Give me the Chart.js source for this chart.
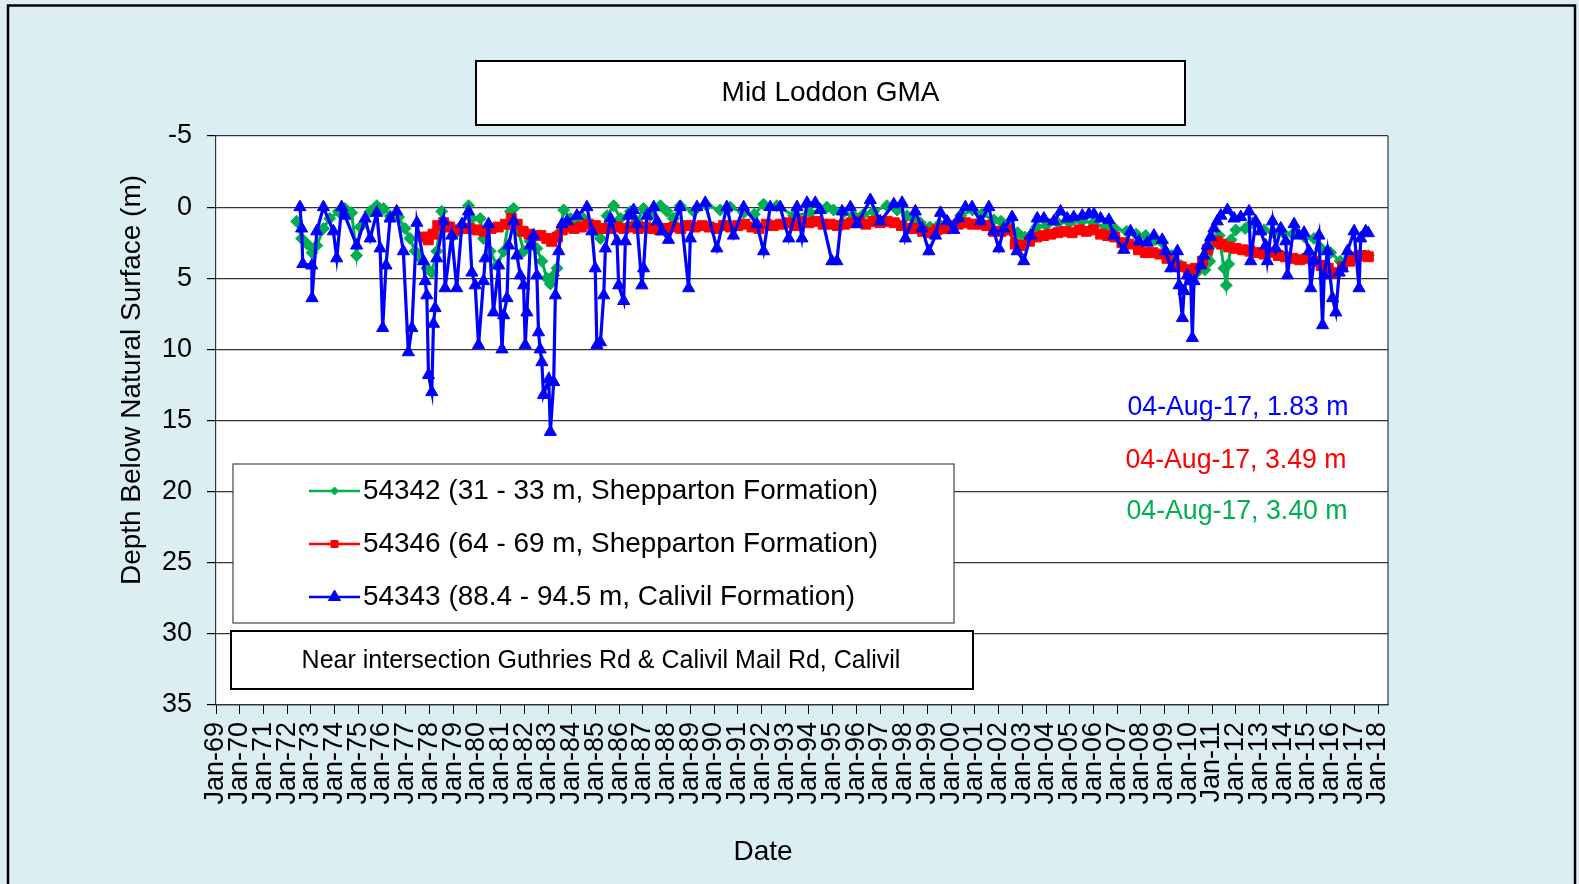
<!DOCTYPE html>
<html lang="en">
<head>
<meta charset="UTF-8">
<title>Mid Loddon GMA</title>
<script src="https://cdn.jsdelivr.net/npm/chart.js"></script>
<style>
	html, body { margin: 0; padding: 0; background: #DAEEF3; }
	canvas { display: block; }
</style>
</head>
<body>
<canvas id="bore-chart" width="1579" height="884"></canvas>
<script>
// x axis: one tick per January, Jan-69 .. Jan-18
const tickLabels = ['Jan-69','Jan-70','Jan-71','Jan-72','Jan-73','Jan-74','Jan-75','Jan-76','Jan-77','Jan-78',
	'Jan-79','Jan-80','Jan-81','Jan-82','Jan-83','Jan-84','Jan-85','Jan-86','Jan-87','Jan-88',
	'Jan-89','Jan-90','Jan-91','Jan-92','Jan-93','Jan-94','Jan-95','Jan-96','Jan-97','Jan-98',
	'Jan-99','Jan-00','Jan-01','Jan-02','Jan-03','Jan-04','Jan-05','Jan-06','Jan-07','Jan-08',
	'Jan-09','Jan-10','Jan-11','Jan-12','Jan-13','Jan-14','Jan-15','Jan-16','Jan-17','Jan-18'];
const firstYear = 1969;
const axisEndYear = 2018.42;

const seriesNames = ['54342 (31 - 33 m, Shepparton Formation)',
	'54346 (64 - 69 m, Shepparton Formation)',
	'54343 (88.4 - 94.5 m, Calivil Formation)'];

// 54342 - decimal year / depth below surface (m)
const greenYears = [1972.40,1972.61,1972.85,1973.05,1973.25,1973.53,1973.80,1974.16,1974.44,1974.72,
	1974.93,1975.08,1975.50,1975.78,1976.06,1976.34,1976.70,1976.97,1977.18,1977.40,
	1977.61,1977.89,1978.10,1978.31,1978.52,1978.73,1979.01,1979.37,1979.65,1979.79,
	1980.14,1980.28,1980.56,1980.85,1981.13,1981.41,1981.55,1981.76,1981.97,1982.25,
	1982.53,1982.74,1982.95,1983.10,1983.24,1983.38,1983.52,1983.66,1983.94,1984.22,
	1984.50,1984.92,1985.21,1985.49,1985.77,1986.05,1986.47,1986.75,1987.03,1987.31,
	1987.74,1988.02,1988.29,1988.57,1989.14,1989.70,1990.26,1990.68,1991.25,1991.70,
	1992.09,1992.65,1993.36,1994.06,1994.76,1995.04,1995.45,1995.89,1996.30,1996.73,
	1997.29,1997.72,1998.14,1998.40,1998.70,1999.10,1999.50,1999.90,2000.40,2000.90,
	2001.30,2001.80,2002.10,2002.40,2002.80,2003.10,2003.60,2004.00,2004.50,2005.00,
	2005.50,2006.00,2006.50,2006.90,2007.40,2007.80,2008.20,2008.60,2008.90,2009.30,
	2009.70,2010.00,2010.30,2010.70,2010.90,2011.10,2011.30,2011.50,2011.60,2011.70,
	2011.80,2012.00,2012.40,2012.70,2013.20,2013.60,2014.00,2014.40,2014.90,2015.30,
	2015.60,2016.00,2016.40,2016.80,2017.20,2017.59];
const greenDepths = [1.0,2.2,2.6,3.2,2.7,1.5,0.8,0.3,0.1,0.4,
	3.4,1.4,0.3,-0.1,0.1,0.6,0.7,1.5,2.2,3.1,
	3.6,4.3,4.6,3.1,0.3,1.2,2.0,1.5,-0.1,0.8,
	0.8,2.2,3.1,4.1,3.1,0.3,0.1,1.7,3.1,2.4,
	2.9,3.8,5.0,5.4,4.8,4.3,1.7,0.2,0.8,1.0,
	0.8,1.7,2.2,0.6,-0.1,0.8,0.3,1.0,0.1,0.6,
	-0.1,0.3,0.8,-0.1,0.3,-0.1,0.2,0.0,0.4,0.5,
	-0.2,-0.1,0.6,0.4,0.0,0.2,0.4,0.6,0.5,0.3,
	-0.1,0.2,0.6,0.8,1.1,1.4,1.2,1.5,0.6,0.2,
	0.5,0.9,1.0,1.3,1.8,2.1,1.4,1.3,1.1,1.1,
	1.0,1.1,1.4,1.5,1.7,1.9,2.0,2.3,2.5,3.4,
	4.1,4.5,4.7,4.4,3.8,2.5,2.0,4.3,5.5,4.0,
	2.3,1.6,1.5,1.1,1.6,1.8,1.8,1.9,2.1,2.2,
	2.9,3.2,3.8,3.5,3.4,3.40];

// 54346
const redYears = [1977.75,1977.95,1978.15,1978.35,1978.60,1978.85,1979.10,1979.40,1979.70,1980.00,
	1980.30,1980.60,1980.90,1981.20,1981.45,1981.70,1981.95,1982.20,1982.45,1982.70,
	1982.95,1983.15,1983.40,1983.60,1983.85,1984.10,1984.40,1984.70,1985.00,1985.30,
	1985.60,1985.90,1986.20,1986.50,1986.80,1987.10,1987.40,1987.70,1988.00,1988.30,
	1988.60,1988.90,1989.20,1989.50,1989.80,1990.10,1990.40,1990.70,1991.00,1991.30,
	1991.60,1991.90,1992.20,1992.50,1992.80,1993.10,1993.40,1993.70,1994.00,1994.30,
	1994.60,1994.90,1995.20,1995.50,1995.80,1996.10,1996.40,1996.70,1997.00,1997.30,
	1997.60,1997.90,1998.20,1998.50,1998.80,1999.10,1999.40,1999.70,2000.00,2000.30,
	2000.60,2000.90,2001.20,2001.50,2001.80,2002.10,2002.40,2002.70,2003.00,2003.30,
	2003.60,2003.90,2004.20,2004.50,2004.80,2005.10,2005.40,2005.70,2006.00,2006.30,
	2006.60,2006.90,2007.20,2007.50,2007.90,2008.20,2008.50,2008.80,2009.10,2009.40,
	2009.70,2010.00,2010.30,2010.60,2010.80,2011.20,2011.40,2011.70,2012.00,2012.30,
	2012.60,2012.90,2013.20,2013.50,2013.80,2014.10,2014.40,2014.70,2015.00,2015.30,
	2015.60,2015.90,2016.20,2016.50,2016.80,2017.10,2017.30,2017.59];
const redDepths = [2.1,2.3,1.9,1.3,1.1,1.4,1.6,1.5,1.5,1.6,
	1.7,1.5,1.4,1.2,0.8,1.2,1.7,1.9,2.0,2.0,
	2.2,2.4,2.1,1.6,1.4,1.5,1.4,1.2,1.3,1.5,
	1.5,1.4,1.5,1.4,1.5,1.4,1.5,1.6,1.5,1.4,
	1.5,1.3,1.4,1.3,1.4,1.5,1.3,1.4,1.3,1.2,
	1.4,1.5,1.2,1.3,1.2,1.1,1.3,1.0,1.1,1.0,
	1.2,1.2,1.3,1.2,1.1,1.0,1.2,1.0,1.1,1.0,
	1.1,1.3,1.5,1.5,1.7,1.8,1.6,1.5,1.3,1.2,
	1.1,1.2,1.2,1.3,1.7,1.7,1.6,2.6,2.7,2.4,
	2.1,2.0,1.9,1.8,1.7,1.8,1.6,1.7,1.6,1.9,
	2.0,2.1,2.5,2.6,3.0,3.2,3.2,3.3,3.6,4.0,
	4.2,4.4,4.3,3.8,3.0,2.4,2.6,2.8,2.9,3.0,
	3.1,3.2,3.3,3.2,3.4,3.5,3.6,3.7,3.6,3.8,
	4.1,4.3,4.6,4.2,3.8,3.5,3.4,3.49];

// 54343
const blueYears = [1972.54,1972.61,1972.66,1973.04,1973.05,1973.25,1973.53,1973.95,1974.09,1974.30,
	1974.44,1974.93,1975.29,1975.50,1975.78,1975.92,1976.03,1976.17,1976.34,1976.62,
	1976.90,1977.11,1977.26,1977.47,1977.75,1977.82,1977.89,1977.96,1978.10,1978.17,
	1978.24,1978.31,1978.59,1978.66,1978.94,1979.15,1979.37,1979.65,1979.79,1979.93,
	1980.07,1980.28,1980.35,1980.49,1980.70,1980.92,1981.06,1981.13,1981.27,1981.34,
	1981.55,1981.69,1981.83,1981.97,1982.04,1982.11,1982.25,1982.39,1982.53,1982.60,
	1982.67,1982.74,1982.81,1983.03,1983.10,1983.24,1983.31,1983.45,1983.59,1983.80,
	1984.22,1984.64,1984.85,1984.99,1985.06,1985.21,1985.35,1985.42,1985.63,1985.91,
	1985.98,1986.19,1986.26,1986.40,1986.61,1986.75,1986.96,1987.03,1987.17,1987.46,
	1987.60,1987.81,1988.08,1988.57,1988.93,1989.00,1989.28,1989.63,1990.12,1990.54,
	1990.82,1991.25,1991.81,1992.09,1992.37,1992.79,1993.15,1993.50,1993.71,1993.92,
	1994.27,1994.48,1994.97,1995.18,1995.40,1995.75,1996.03,1996.59,1997.01,1997.58,
	1997.93,1998.07,1998.49,1998.77,1999.06,1999.34,1999.55,1999.83,2000.11,2000.32,
	2000.60,2000.88,2001.24,2001.59,2001.80,2002.01,2002.22,2002.57,2002.78,2003.06,
	2003.35,2003.63,2003.91,2004.33,2004.61,2004.89,2005.17,2005.53,2005.81,2006.02,
	2006.30,2006.65,2006.86,2007.28,2007.56,2007.92,2008.27,2008.55,2008.90,2009.04,
	2009.26,2009.54,2009.61,2009.75,2009.82,2009.96,2010.10,2010.17,2010.24,2010.52,
	2010.66,2010.80,2010.94,2011.08,2011.22,2011.37,2011.65,2011.93,2012.21,2012.56,
	2012.63,2012.84,2013.05,2013.26,2013.33,2013.55,2013.69,2013.90,2014.11,2014.18,
	2014.46,2014.67,2014.88,2015.09,2015.16,2015.30,2015.51,2015.66,2015.73,2015.87,
	2016.08,2016.22,2016.36,2016.50,2016.71,2016.99,2017.20,2017.27,2017.48,2017.59];
const blueDepths = [0.0,1.5,4.0,4.1,6.4,1.7,0.0,1.7,3.6,0.0,
	0.6,2.7,0.8,2.2,0.4,2.9,8.5,4.1,0.8,0.3,
	3.1,10.2,8.5,1.1,3.8,5.2,6.2,11.8,13.0,8.2,
	7.1,3.6,1.0,5.7,2.0,5.7,1.2,0.3,4.6,5.5,
	9.7,5.2,3.6,1.2,7.4,4.1,10.0,7.6,6.4,2.7,
	1.0,3.4,4.8,5.5,9.7,7.4,2.7,2.0,4.8,8.8,
	10.0,10.9,13.2,12.1,15.8,12.3,6.2,3.1,1.2,1.0,
	0.6,0.0,1.7,4.3,9.7,9.5,6.2,2.9,0.8,2.4,
	5.5,6.6,2.4,0.6,0.2,1.2,5.5,4.3,0.6,0.0,
	1.0,1.7,2.3,0.0,5.7,2.2,0.0,-0.3,2.9,0.0,
	2.0,0.0,1.2,3.1,0.0,0.0,2.2,0.0,2.2,-0.3,
	-0.3,0.2,3.8,3.8,0.3,0.0,1.2,-0.5,1.0,-0.2,
	-0.3,2.2,0.3,1.5,3.1,2.0,0.4,1.0,1.6,0.8,
	0.0,0.0,1.0,0.0,1.7,2.9,1.5,0.7,3.1,3.8,
	2.0,0.8,0.8,1.0,0.3,0.8,0.7,0.6,0.5,0.5,
	0.8,0.9,2.0,3.0,1.7,2.4,2.5,2.0,2.3,3.1,
	4.3,3.1,5.5,7.8,5.9,4.8,5.2,9.2,5.2,4.1,
	3.4,2.7,2.1,1.5,1.0,0.6,0.2,0.8,0.7,0.3,
	3.8,1.0,1.7,2.7,3.8,1.0,2.9,1.5,2.4,4.8,
	1.2,2.0,1.8,3.1,5.7,3.8,2.0,8.3,4.8,3.1,
	6.4,7.4,4.6,4.3,3.1,1.7,5.7,2.2,1.7,1.83];

const lastReadings = ['04-Aug-17, 1.83 m', '04-Aug-17, 3.49 m', '04-Aug-17, 3.40 m'];

const GREEN = '#00B050';
const RED = '#FF0000';
const BLUE = '#0000FF';
const FONT = '"Liberation Sans", Arial, sans-serif';

function toPoints(xs, ys) {
	return xs.map((x, i) => ({ x: x, y: ys[i] }));
}

function marker(ctx, style, x, y, r, color) {
	ctx.fillStyle = color;
	ctx.strokeStyle = color;
	ctx.lineWidth = 1;
	ctx.beginPath();
	if(style === 'triangle') {
		ctx.moveTo(x, y - r);
		ctx.lineTo(x + r * 0.866, y + r * 0.5);
		ctx.lineTo(x - r * 0.866, y + r * 0.5);
	} else if(style === 'rect') {
		const s = r * Math.SQRT1_2;
		ctx.rect(x - s, y - s, 2 * s, 2 * s);
	} else {
		ctx.moveTo(x - r, y);
		ctx.lineTo(x, y - r);
		ctx.lineTo(x + r, y);
		ctx.lineTo(x, y + r);
	}
	ctx.closePath();
	ctx.fill();
	ctx.stroke();
}

function textAt(ctx, text, x, y, size, color, maxWidth) {
	ctx.font = size + 'px ' + FONT;
	ctx.fillStyle = color;
	ctx.textAlign = 'center';
	ctx.textBaseline = 'middle';
	if(maxWidth) ctx.fillText(text, x, y, maxWidth);
	else ctx.fillText(text, x, y);
}

// background, frame, title box and the boxes drawn over the plot
const decorations = {
	id: 'decorations',
	beforeDraw(chart) {
		const ctx = chart.ctx;
		const a = chart.chartArea;
		ctx.save();
		ctx.fillStyle = '#DAEEF3';
		ctx.fillRect(0, 0, chart.width, chart.height);
		ctx.strokeStyle = '#000';
		ctx.lineWidth = 2.5;
		ctx.strokeRect(8, 5.5, 1567, 920);
		ctx.fillStyle = '#FFF';
		ctx.fillRect(a.left, a.top, a.right - a.left, a.bottom - a.top);
		// title
		ctx.fillRect(476, 61, 709, 64);
		ctx.lineWidth = 2;
		ctx.strokeRect(476, 61, 709, 64);
		textAt(ctx, 'Mid Loddon GMA', 830.5, 93, 28, '#000', 218);
		ctx.restore();
	},
	afterDraw(chart) {
		const ctx = chart.ctx;
		const a = chart.chartArea;
		ctx.save();
		// right edge of the plot
		ctx.strokeStyle = '#333';
		ctx.lineWidth = 1.2;
		ctx.beginPath();
		ctx.moveTo(a.right, a.top);
		ctx.lineTo(a.right, a.bottom);
		ctx.stroke();

		// axis titles
		textAt(ctx, 'Date', 763, 852, 28, '#000');
		ctx.save();
		ctx.translate(132, 380);
		ctx.rotate(-Math.PI / 2);
		textAt(ctx, 'Depth Below Natural Surface (m)', 0, 0, 28, '#000', 410);
		ctx.restore();

		// legend
		ctx.fillStyle = '#FFF';
		ctx.fillRect(233, 464, 721, 159);
		ctx.strokeStyle = '#444';
		ctx.lineWidth = 1.2;
		ctx.strokeRect(233, 464, 721, 159);
		const rows = [
			{ y: 491, color: GREEN, style: 'rectRot', r: 4 },
			{ y: 544, color: RED, style: 'rect', r: 5 },
			{ y: 597, color: BLUE, style: 'triangle', r: 7 }
		];
		rows.forEach((row, i) => {
			ctx.strokeStyle = row.color;
			ctx.lineWidth = 2.5;
			ctx.beginPath();
			ctx.moveTo(309, row.y);
			ctx.lineTo(360, row.y);
			ctx.stroke();
			marker(ctx, row.style, 334.5, row.y, row.r, row.color);
			ctx.font = '28px ' + FONT;
			ctx.fillStyle = '#000';
			ctx.textAlign = 'left';
			ctx.textBaseline = 'middle';
			ctx.fillText(seriesNames[i], 363, row.y, i === 2 ? 492 : 515);
		});

		// location note
		ctx.fillStyle = '#FFF';
		ctx.fillRect(231, 631, 742, 58);
		ctx.strokeStyle = '#000';
		ctx.lineWidth = 2;
		ctx.strokeRect(231, 631, 742, 58);
		textAt(ctx, 'Near intersection Guthries Rd & Calivil Mail Rd, Calivil', 601, 661, 25, '#000', 607);

		// latest readings
		textAt(ctx, lastReadings[0], 1238, 408, 27, BLUE, 221);
		textAt(ctx, lastReadings[1], 1236, 461, 27, RED, 221);
		textAt(ctx, lastReadings[2], 1237, 512, 27, GREEN, 221);
		ctx.restore();
	}
};

Chart.defaults.font.family = FONT;
Chart.defaults.color = '#000';

new Chart(document.getElementById('bore-chart'), {
	type: 'line',
	data: {
		datasets: [{
			label: seriesNames[0],
			data: toPoints(greenYears, greenDepths),
			borderColor: GREEN,
			backgroundColor: GREEN,
			borderWidth: 3,
			pointStyle: 'rectRot',
			pointRadius: 6,
			pointBorderWidth: 1,
			order: 2
		}, {
			label: seriesNames[1],
			data: toPoints(redYears, redDepths),
			borderColor: RED,
			backgroundColor: RED,
			borderWidth: 3,
			pointStyle: 'rect',
			pointRadius: 7,
			pointBorderWidth: 1,
			order: 1
		}, {
			label: seriesNames[2],
			data: toPoints(blueYears, blueDepths),
			borderColor: BLUE,
			backgroundColor: BLUE,
			borderWidth: 3.2,
			pointStyle: 'triangle',
			pointRadius: 7,
			pointBorderWidth: 1,
			order: 0
		}]
	},
	options: {
		responsive: false,
		animation: false,
		devicePixelRatio: 1,
		layout: { padding: { left: 0, top: 136, right: 191, bottom: 0 } },
		elements: { line: { tension: 0 } },
		plugins: {
			legend: { display: false },
			tooltip: { enabled: false },
			title: { display: false }
		},
		scales: {
			x: {
				type: 'linear',
				min: firstYear,
				max: axisEndYear,
				afterBuildTicks: (scale) => {
					scale.ticks = tickLabels.map((t, i) => ({ value: firstYear + i }));
				},
				afterFit: (scale) => { scale.height = 179; },
				ticks: {
					autoSkip: false,
					minRotation: 90,
					maxRotation: 90,
					padding: 8,
					font: { size: 27 },
					callback: (value, index) => tickLabels[index]
				},
				grid: { drawOnChartArea: false, tickLength: 9, tickColor: '#000' },
				border: { color: '#333', width: 1.2 }
			},
			y: {
				min: -5,
				max: 35,
				reverse: true,
				afterFit: (scale) => { scale.width = 216; },
				ticks: { stepSize: 5, padding: 15, font: { size: 27 } },
				grid: { color: '#333', lineWidth: 1.2, tickLength: 9, tickColor: '#000' },
				border: { color: '#333', width: 1.2 }
			}
		}
	},
	plugins: [decorations]
});
</script>
</body>
</html>
